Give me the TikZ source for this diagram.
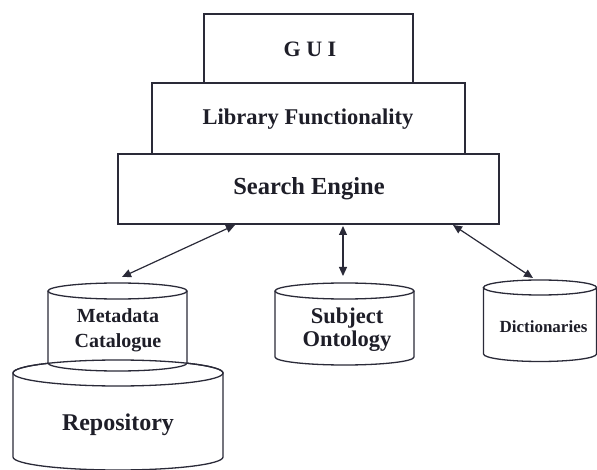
\documentclass[tikz,border=0pt]{standalone}
\usepackage{fontspec}
\setmainfont{Liberation Serif}
\usetikzlibrary{arrows.meta}

\definecolor{ink}{HTML}{2A2A38}
\definecolor{txt}{HTML}{1E1E28}

% A drum (database cylinder): centre x, top y, bottom y, x radius, y radius
\newcommand{\drum}[5]{%
  \draw[edge, fill=white] (#1-#4,-#2) -- (#1-#4,-#3)
    arc[start angle=180, end angle=360, x radius=#4, y radius=#5]
    -- (#1+#4,-#2);
  \draw[edge] (#1,-#2) ellipse[x radius=#4, y radius=#5];
}

\begin{document}
\begin{tikzpicture}[x=1pt, y=1pt,
  edge/.style={draw=ink, line width=1.3pt},
  layer/.style={edge, fill=white, inner sep=0pt},
  label/.style={inner sep=0pt, align=center, font=\bfseries, text=txt},
  link/.style={draw=ink, line width=1.2pt, {Triangle[length=9pt,width=8pt]}-{Triangle[length=9pt,width=8pt]}}
]
\useasboundingbox (0,0) rectangle (597,-470);

% Layered software stack
\node[layer, minimum width=209pt, minimum height=69pt] (gui) at (308.5,-48.5) {};
\node[layer, minimum width=313pt, minimum height=72pt] (lib) at (308.5,-119) {};
\node[layer, minimum width=381pt, minimum height=70pt] (se) at (308.5,-189) {};

\node[label, anchor=base, font=\bfseries\fontsize{22}{24}\selectfont] (gui-t) at (310,-57) {G U I};
\node[label, anchor=base, font=\bfseries\fontsize{22.5}{24}\selectfont] (lib-t) at (308,-125) {Library Functionality};
\node[label, anchor=base, font=\bfseries\fontsize{24.5}{26}\selectfont] (se-t) at (309,-195) {Search Engine};

% Data stores
\drum{118}{373}{457}{105}{13}
\drum{117.5}{291}{363}{69.5}{8}
\draw[edge] (13,-373) arc[start angle=180, end angle=0, x radius=105, y radius=13];
\drum{344.5}{291}{357}{69.5}{8}
\drum{540}{287.5}{354}{56.5}{7.5}

\node[label, font=\bfseries\fontsize{20}{25}\selectfont] (meta) at (118,-330.5) {Metadata\\Catalogue};
\node[label, anchor=base, font=\bfseries\fontsize{24}{26}\selectfont] (repo) at (118,-430) {Repository};
\node[label, font=\bfseries\fontsize{22.5}{23}\selectfont] (subj) at (347,-330) {Subject\\Ontology};
\node[label, anchor=base, font=\bfseries\fontsize{17}{19}\selectfont] (dict) at (543.5,-333) {Dictionaries};

% Connector end points
\coordinate (se-a) at (235,-225);
\coordinate (se-b) at (343,-226);
\coordinate (se-c) at (453,-225);
\coordinate (meta-top) at (122,-277);
\coordinate (subj-top) at (343,-276);
\coordinate (dict-top) at (533,-278);

\draw[link] (se-a) -- (meta-top);
\draw[link] (se-b) -- (subj-top);
\draw[link] (se-c) -- (dict-top);
\end{tikzpicture}
\end{document}
